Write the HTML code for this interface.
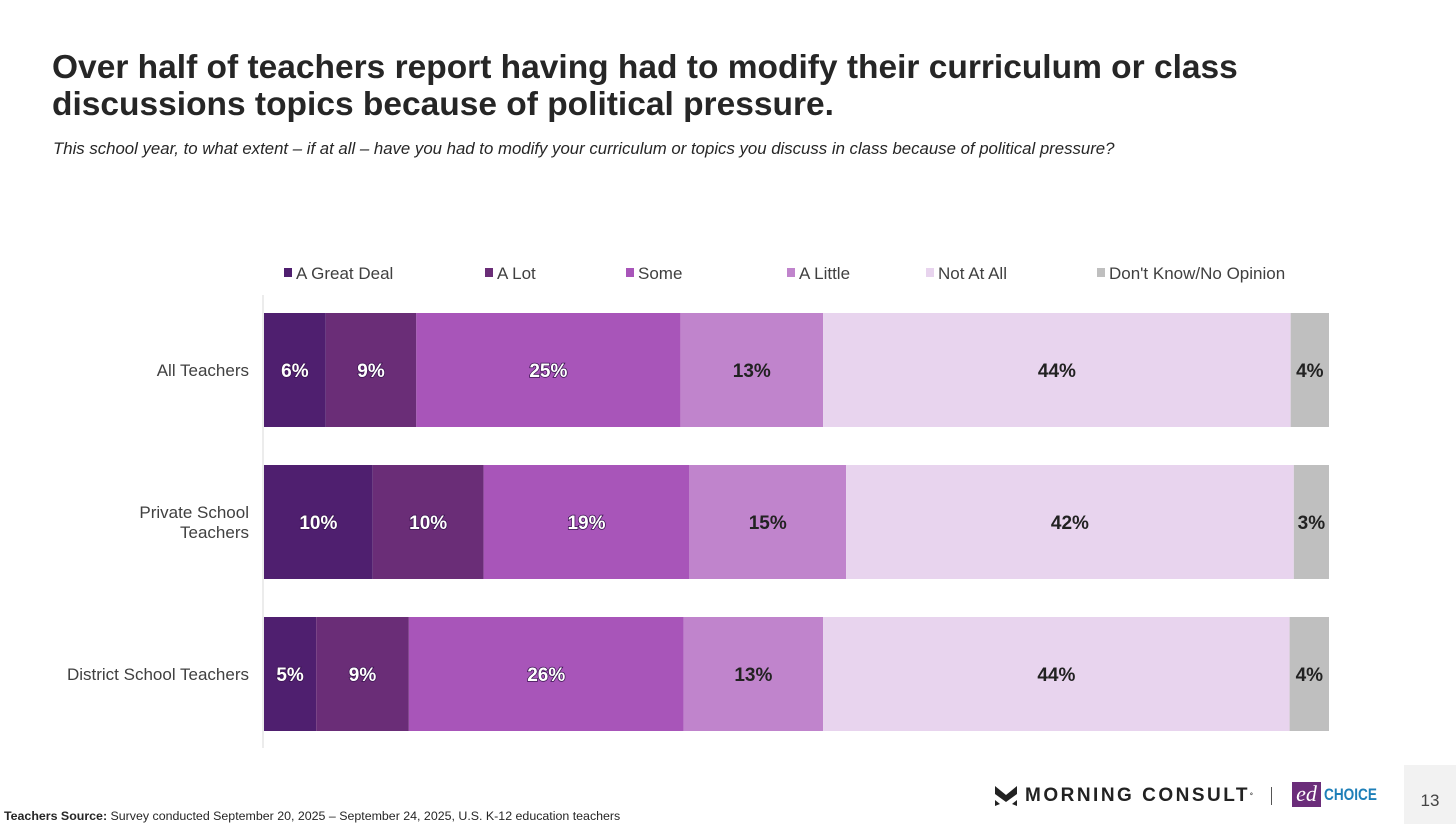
<!DOCTYPE html>
<html><head><meta charset="utf-8"><style>
body{margin:0;width:1456px;height:824px;background:#fff;font-family:"Liberation Sans",Arial,sans-serif;position:relative;overflow:hidden}
.abs{position:absolute}
</style></head><body>
<div class="abs" style="left:52px;top:49px;font-size:33.5px;font-weight:bold;color:#262626;line-height:37px;width:1250px">Over half of teachers report having had to modify their curriculum or class discussions topics because of political pressure.</div>
<div class="abs" style="left:53px;top:139px;font-size:16.8px;font-style:italic;color:#262626">This school year, to what extent – if at all – have you had to modify your curriculum or topics you discuss in class because of political pressure?</div>
<svg class="abs" style="left:0;top:0" width="1456" height="824" id="chart"></svg>
<div class="abs" style="left:4px;top:809px;font-size:12.4px;color:#262626"><b>Teachers Source:</b> Survey conducted September 20, 2025 – September 24, 2025, U.S. K-12 education teachers</div>
<div class="abs" style="left:995px;top:785px;font-size:19px;font-weight:bold;letter-spacing:2.5px;color:#222;display:flex;align-items:center">
<svg width="22" height="20" style="margin-right:8px"><path d="M0 0 L11 9 L22 0 L22 8 L11 16 L0 8Z M0 14 L5 18 L0 20Z M22 14 L17 18 L22 20Z" fill="#222"/></svg>MORNING CONSULT<sup style="font-size:7px">°</sup></div>
<div class="abs" style="left:1271px;top:787px;width:1px;height:18px;background:#555"></div>
<div class="abs" style="left:1292px;top:782px;display:flex;align-items:center">
<div style="width:29px;height:25px;background:#6b2d7a;color:#fff;font-family:'Liberation Serif',serif;font-style:italic;font-size:22px;line-height:24px;text-align:center">ed</div>
<div style="color:#1e7fb8;font-weight:bold;font-size:17px;margin-left:3px;transform:scaleX(0.8);transform-origin:left">CHOICE</div></div>
<div class="abs" style="left:1404px;top:765px;width:52px;height:59px;background:#f2f2f2;font-size:17px;color:#444;text-align:center;line-height:72px">13</div>
<script>
const categories=["All Teachers","Private School\nTeachers","District School Teachers"];
const seriesNames=["A Great Deal","A Lot","Some","A Little","Not At All","Don't Know/No Opinion"];
const greatDeal=[5.8,10.2,4.9];
const aLot=[8.5,10.4,8.7];
const some=[24.8,19.3,25.8];
const aLittle=[13.4,14.7,13.1];
const notAtAll=[43.9,42.0,43.8];
const dontKnow=[3.6,3.3,3.7];
const series=[greatDeal,aLot,some,aLittle,notAtAll,dontKnow];
const colors=["#4f1f6f","#6a2d77","#a855b9","#c084cc","#e8d4ee","#bfbfbf"];
const textCol=["#fff","#fff","#fff","#222","#222","#222"];
const legendX=[284,485,626,787,926,1097];
const svg=document.getElementById('chart');
const NS="http://www.w3.org/2000/svg";
const x0=264,x1=1329,barTop=313,bandStep=152,barH=114;
function mk(t,a){const e=document.createElementNS(NS,t);for(const k in a)e.setAttribute(k,a[k]);svg.appendChild(e);return e;}
function xScale(v,total){return (v/total)*(x1-x0);}
const ax=mk('line',{x1:263,y1:295,x2:263,y2:748,stroke:'#d9d9d9','stroke-width':1});


seriesNames.forEach((n,i)=>{
 const r=mk('rect',{x:legendX[i],y:268,width:8,height:9,fill:colors[i]});
 
 
 const t=mk('text',{x:legendX[i]+12,y:279,'font-size':17,fill:'#404040'});t.textContent=n;
 
 
});
categories.forEach((c,ci)=>{
 const y=barTop+ci*bandStep;
 const lines=c.split("\n");
 lines.forEach((l,li)=>{
  const t=mk('text',{x:249,y:y+barH/2+6-(lines.length-1)*10+li*20,'font-size':17,fill:'#404040','text-anchor':'end'});
  t.textContent=l;
  
  
 });
 let total=0;series.forEach(s=>total+=s[ci]);
 let x=x0;
 series.forEach((s,si)=>{
  const w=xScale(s[ci],total);
  const r=mk('rect',{x:x,y:y,width:w,height:barH,fill:colors[si]});
  
  
  const t=mk('text',{x:x+w/2,y:y+barH/2+7,'font-size':19,'font-weight':'bold',fill:textCol[si],'text-anchor':'middle'});
  if(textCol[si]==="#fff"){t.setAttribute('stroke','#3a1450');t.setAttribute('stroke-width','1.5');t.setAttribute('paint-order','stroke');}
  t.textContent=Math.round(s[ci])+"%";
  
  
  x+=w;
 });
});
</script>
</body></html>
